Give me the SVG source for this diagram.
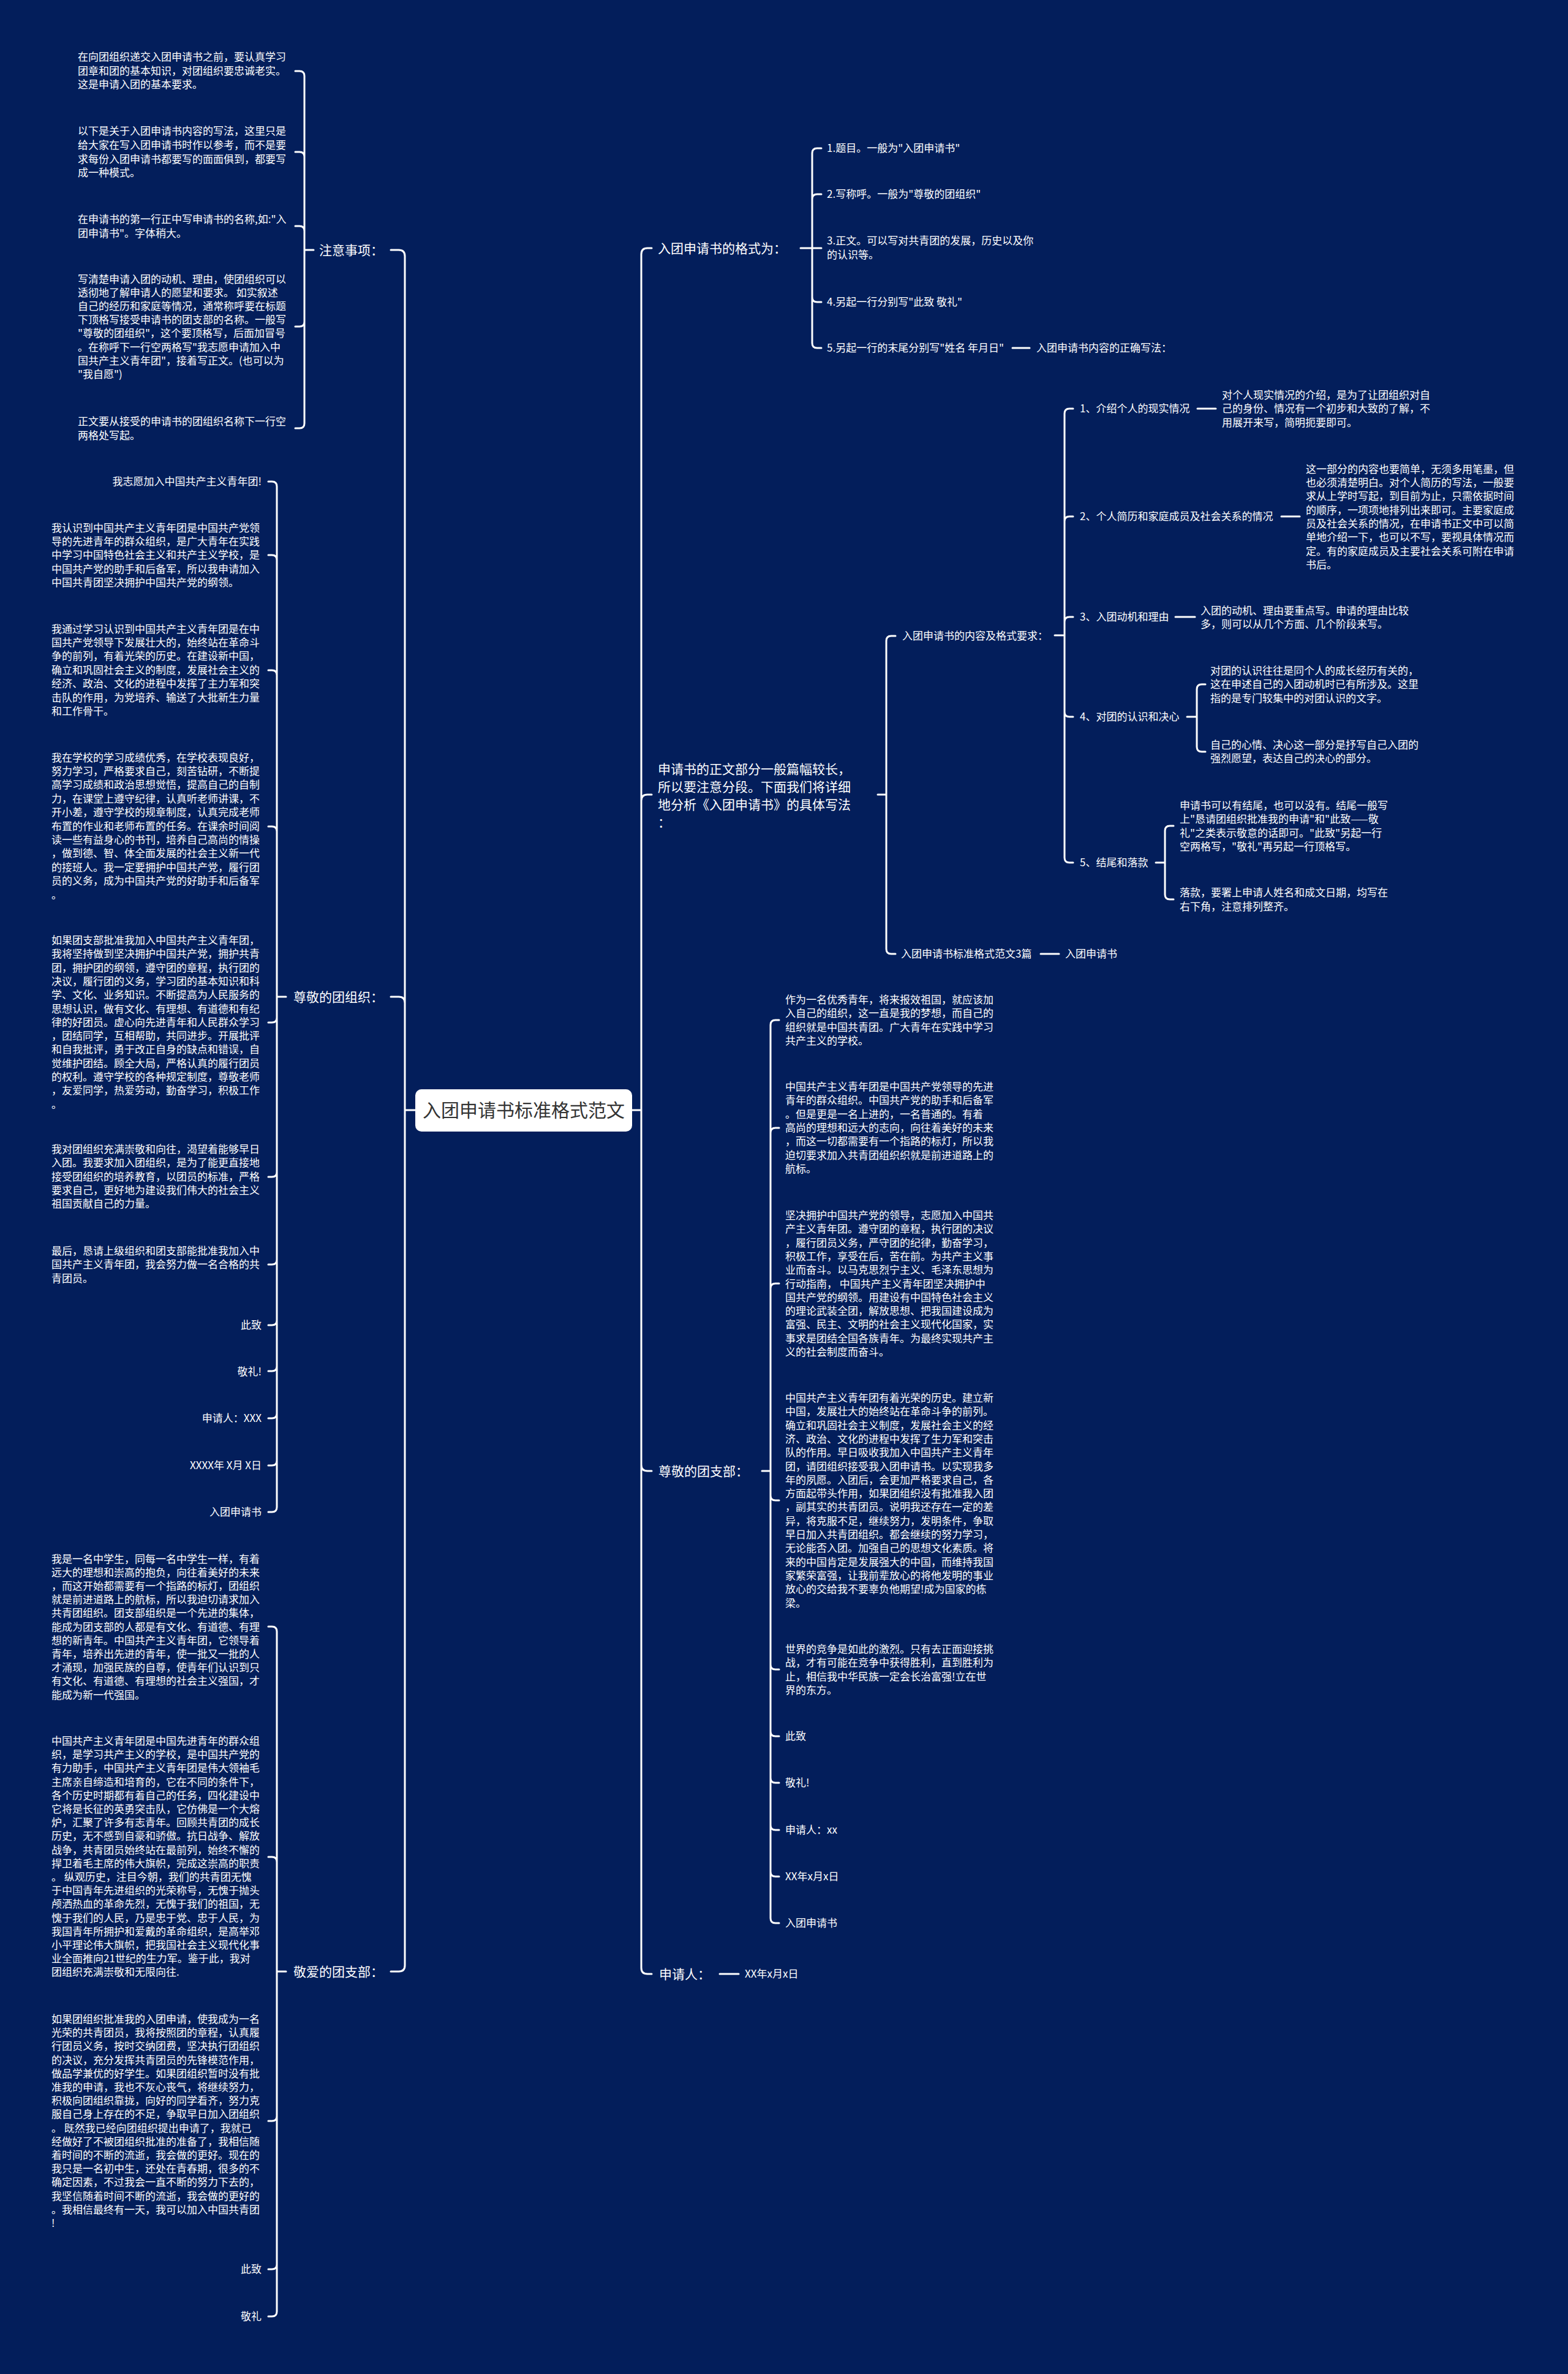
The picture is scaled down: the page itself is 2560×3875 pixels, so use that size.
<svg xmlns="http://www.w3.org/2000/svg" width="2560" height="3875" viewBox="0 0 2560 3875">
<style>
text{font-family:"Noto Sans CJK SC","Noto Sans",sans-serif;fill:#ffffff}
.l{font-size:17px}
.h{font-size:21px}
.c{font-size:30px;fill:#333333}
.e{text-anchor:end}
.ln{fill:none;stroke:#ffffff;stroke-width:3;stroke-linecap:round}
</style>
<rect width="2560" height="3875" fill="#031e5b"/>
<g id="connectors" class="ln">
<path d="M678 1812H661M661 1812V418Q661 408 651 408H638M661 1812V1637Q661 1627 651 1627H638M661 1812V3208Q661 3218 651 3218H638"/>
<path d="M1032 1812H1047M1047 1812V415Q1047 405 1057 405H1064M1047 1812V1307Q1047 1297 1057 1297H1064M1047 1812V2391Q1047 2401 1057 2401H1064M1047 1812V3212Q1047 3222 1057 3222H1064"/>
<path d="M512 408H497M497 408V124Q497 116 489 116H482M497 408V256Q497 248 489 248H482M497 408V377Q497 369 489 369H482M497 408V525Q497 533 489 533H482M497 408V691Q497 699 489 699H482"/>
<path d="M467 1627H452M452 1627V794Q452 786 444 786H438M452 1627V914Q452 906 444 906H438M452 1627V1102Q452 1094 444 1094H438M452 1627V1357Q452 1349 444 1349H438M452 1627V1661Q452 1669 444 1669H438M452 1627V1913Q452 1921 444 1921H438M452 1627V2056Q452 2064 444 2064H438M452 1627V2155Q452 2163 444 2163H438M452 1627V2230Q452 2238 444 2238H438M452 1627V2307Q452 2315 444 2315H438M452 1627V2384Q452 2392 444 2392H438M452 1627V2460Q452 2468 444 2468H438"/>
<path d="M467 3218H452M452 3218V2663Q452 2655 444 2655H438M452 3218V3039Q452 3031 444 3031H438M452 3218V3454Q452 3462 444 3462H438M452 3218V3696Q452 3704 444 3704H438M452 3218V3773Q452 3781 444 3781H438"/>
<path d="M1307 405H1326M1326 405V250Q1326 242 1334 242H1341M1326 405V325Q1326 317 1334 317H1341M1326 405H1341M1326 405V485Q1326 493 1334 493H1341M1326 405V560Q1326 568 1334 568H1341M1653 568H1681"/>
<path d="M1433 1297H1447M1447 1297V1046Q1447 1038 1455 1038H1462M1447 1297V1549Q1447 1557 1455 1557H1462M1699 1557H1729"/>
<path d="M1722 1037H1738M1738 1037V675Q1738 667 1746 667H1752M1738 1037V851Q1738 843 1746 843H1752M1738 1037V1015Q1738 1007 1746 1007H1752M1738 1037V1162Q1738 1170 1746 1170H1752M1738 1037V1400Q1738 1408 1746 1408H1752M1955 667H1985M2092 843H2122M1919 1007H1951"/>
<path d="M1938 1170H1954M1954 1170V1125Q1954 1117 1962 1117H1968M1954 1170V1219Q1954 1227 1962 1227H1968M1887 1408H1902M1902 1408V1356Q1902 1348 1910 1348H1916M1902 1408V1460Q1902 1468 1910 1468H1916"/>
<path d="M1244 2401H1258M1258 2401V1673Q1258 1665 1266 1665H1272M1258 2401V1849Q1258 1841 1266 1841H1272M1258 2401V2103Q1258 2095 1266 2095H1272M1258 2401V2441Q1258 2449 1266 2449H1272M1258 2401V2717Q1258 2725 1266 2725H1272M1258 2401V2826Q1258 2834 1266 2834H1272M1258 2401V2902Q1258 2910 1266 2910H1272M1258 2401V2979Q1258 2987 1266 2987H1272M1258 2401V3055Q1258 3063 1266 3063H1272M1258 2401V3131Q1258 3139 1266 3139H1272M1175 3222H1206"/>
</g>
<g id="root">
<rect x="678" y="1778" width="354" height="69" rx="10" fill="#ffffff"/>
<text class="c" x="855" y="1822.5" text-anchor="middle">入团申请书标准格式范文</text>
</g>
<g id="n-notes"><text class="h e" x="626" y="415.5">注意事项：</text></g>
<g id="n-notes-1"><text class="l"><tspan x="127" y="98.5">在向团组织递交入团申请书之前，要认真学习</tspan><tspan x="127" y="121.5">团章和团的基本知识，对团组织要忠诚老实。</tspan><tspan x="127" y="144">这是申请入团的基本要求。</tspan></text></g>
<g id="n-notes-2"><text class="l"><tspan x="127" y="220">以下是关于入团申请书内容的写法，这里只是</tspan><tspan x="127" y="243">给大家在写入团申请书时作以参考，而不是要</tspan><tspan x="127" y="265.5">求每份入团申请书都要写的面面俱到，都要写</tspan><tspan x="127" y="288">成一种模式。</tspan></text></g>
<g id="n-notes-3"><text class="l"><tspan x="127" y="363.5">在申请书的第一行正中写申请书的名称,如:"入</tspan><tspan x="127" y="387">团申请书"。字体稍大。</tspan></text></g>
<g id="n-notes-4"><text class="l"><tspan x="127" y="461.5">写清楚申请入团的动机、理由，使团组织可以</tspan><tspan x="127" y="483.7">透彻地了解申请人的愿望和要求。 如实叙述</tspan><tspan x="127" y="505.9">自己的经历和家庭等情况，通常称呼要在标题</tspan><tspan x="127" y="528.1">下顶格写接受申请书的团支部的名称。一般写</tspan><tspan x="127" y="550.3">"尊敬的团组织"，这个要顶格写，后面加冒号</tspan><tspan x="127" y="572.5">。在称呼下一行空两格写"我志愿申请加入中</tspan><tspan x="127" y="594.7">国共产主义青年团"，接着写正文。(也可以为</tspan><tspan x="127" y="616.9">"我自愿")</tspan></text></g>
<g id="n-notes-5"><text class="l"><tspan x="127" y="693.5">正文要从接受的申请书的团组织名称下一行空</tspan><tspan x="127" y="716.5">两格处写起。</tspan></text></g>
<g id="n-zz"><text class="h e" x="626" y="1634.5">尊敬的团组织：</text></g>
<g id="n-zz-1"><text class="l e" x="427" y="792">我志愿加入中国共产主义青年团!</text></g>
<g id="n-zz-2"><text class="l"><tspan x="84" y="867.5">我认识到中国共产主义青年团是中国共产党领</tspan><tspan x="84" y="889.9">导的先进青年的群众组织，是广大青年在实践</tspan><tspan x="84" y="912.3">中学习中国特色社会主义和共产主义学校，是</tspan><tspan x="84" y="934.7">中国共产党的助手和后备军，所以我申请加入</tspan><tspan x="84" y="957.1">中国共青团坚决拥护中国共产党的纲领。</tspan></text></g>
<g id="n-zz-3"><text class="l"><tspan x="84" y="1032.6">我通过学习认识到中国共产主义青年团是在中</tspan><tspan x="84" y="1055">国共产党领导下发展壮大的，始终站在革命斗</tspan><tspan x="84" y="1077.4">争的前列，有着光荣的历史。在建设新中国，</tspan><tspan x="84" y="1099.8">确立和巩固社会主义的制度，发展社会主义的</tspan><tspan x="84" y="1122.2">经济、政治、文化的进程中发挥了主力军和突</tspan><tspan x="84" y="1144.6">击队的作用，为党培养、输送了大批新生力量</tspan><tspan x="84" y="1167">和工作骨干。</tspan></text></g>
<g id="n-zz-4"><text class="l"><tspan x="84" y="1242.6">我在学校的学习成绩优秀，在学校表现良好，</tspan><tspan x="84" y="1265">努力学习，严格要求自己，刻苦钻研，不断提</tspan><tspan x="84" y="1287.4">高学习成绩和政治思想觉悟，提高自己的自制</tspan><tspan x="84" y="1309.8">力，在课堂上遵守纪律，认真听老师讲课，不</tspan><tspan x="84" y="1332.2">开小差，遵守学校的规章制度，认真完成老师</tspan><tspan x="84" y="1354.6">布置的作业和老师布置的任务。在课余时间阅</tspan><tspan x="84" y="1377">读一些有益身心的书刊，培养自己高尚的情操</tspan><tspan x="84" y="1399.4">，做到德、智、体全面发展的社会主义新一代</tspan><tspan x="84" y="1421.8">的接班人。我一定要拥护中国共产党，履行团</tspan><tspan x="84" y="1444.2">员的义务，成为中国共产党的好助手和后备军</tspan><tspan x="84" y="1466.6">。</tspan></text></g>
<g id="n-zz-5"><text class="l"><tspan x="84" y="1541">如果团支部批准我加入中国共产主义青年团，</tspan><tspan x="84" y="1563.3">我将坚持做到坚决拥护中国共产党，拥护共青</tspan><tspan x="84" y="1585.6">团，拥护团的纲领，遵守团的章程，执行团的</tspan><tspan x="84" y="1607.9">决议，履行团的义务，学习团的基本知识和科</tspan><tspan x="84" y="1630.2">学、文化、业务知识。不断提高为人民服务的</tspan><tspan x="84" y="1652.5">思想认识，做有文化、有理想、有道德和有纪</tspan><tspan x="84" y="1674.8">律的好团员。虚心向先进青年和人民群众学习</tspan><tspan x="84" y="1697.1">，团结同学，互相帮助，共同进步。开展批评</tspan><tspan x="84" y="1719.4">和自我批评，勇于改正自身的缺点和错误，自</tspan><tspan x="84" y="1741.7">觉维护团结。顾全大局，严格认真的履行团员</tspan><tspan x="84" y="1764">的权利。遵守学校的各种规定制度，尊敬老师</tspan><tspan x="84" y="1786.3">，友爱同学，热爱劳动，勤奋学习，积极工作</tspan><tspan x="84" y="1808.6">。</tspan></text></g>
<g id="n-zz-6"><text class="l"><tspan x="84" y="1882">我对团组织充满崇敬和向往，渴望着能够早日</tspan><tspan x="84" y="1904.3">入团。我要求加入团组织，是为了能更直接地</tspan><tspan x="84" y="1926.6">接受团组织的培养教育，以团员的标准，严格</tspan><tspan x="84" y="1948.9">要求自己，更好地为建设我们伟大的社会主义</tspan><tspan x="84" y="1971.2">祖国贡献自己的力量。</tspan></text></g>
<g id="n-zz-7"><text class="l"><tspan x="84" y="2048">最后，恳请上级组织和团支部能批准我加入中</tspan><tspan x="84" y="2070.3">国共产主义青年团，我会努力做一名合格的共</tspan><tspan x="84" y="2092.6">青团员。</tspan></text></g>
<g id="n-zz-8"><text class="l e" x="427" y="2169">此致</text></g>
<g id="n-zz-9"><text class="l e" x="427" y="2244.5">敬礼!</text></g>
<g id="n-zz-10"><text class="l e" x="427" y="2321">申请人：XXX</text></g>
<g id="n-zz-11"><text class="l e" x="427" y="2397.6">XXXX年 X月 X日</text></g>
<g id="n-zz-12"><text class="l e" x="427" y="2474">入团申请书</text></g>
<g id="n-ja"><text class="h e" x="626" y="3225.5">敬爱的团支部：</text></g>
<g id="n-ja-1"><text class="l"><tspan x="84" y="2550.5">我是一名中学生，同每一名中学生一样，有着</tspan><tspan x="84" y="2572.7">远大的理想和崇高的抱负，向往着美好的未来</tspan><tspan x="84" y="2594.9">，而这开始都需要有一个指路的标灯，团组织</tspan><tspan x="84" y="2617.1">就是前进道路上的航标，所以我迫切请求加入</tspan><tspan x="84" y="2639.3">共青团组织。团支部组织是一个先进的集体，</tspan><tspan x="84" y="2661.5">能成为团支部的人都是有文化、有道德、有理</tspan><tspan x="84" y="2683.7">想的新青年。中国共产主义青年团，它领导着</tspan><tspan x="84" y="2705.9">青年，培养出先进的青年，使一批又一批的人</tspan><tspan x="84" y="2728.1">才涌现，加强民族的自尊，使青年们认识到只</tspan><tspan x="84" y="2750.3">有文化、有道德、有理想的社会主义强国，才</tspan><tspan x="84" y="2772.5">能成为新一代强国。</tspan></text></g>
<g id="n-ja-2"><text class="l"><tspan x="84" y="2848">中国共产主义青年团是中国先进青年的群众组</tspan><tspan x="84" y="2870.2">织，是学习共产主义的学校，是中国共产党的</tspan><tspan x="84" y="2892.4">有力助手，中国共产主义青年团是伟大领袖毛</tspan><tspan x="84" y="2914.6">主席亲自缔造和培育的，它在不同的条件下，</tspan><tspan x="84" y="2936.8">各个历史时期都有着自己的任务，四化建设中</tspan><tspan x="84" y="2959">它将是长征的英勇突击队，它仿佛是一个大熔</tspan><tspan x="84" y="2981.2">炉，汇聚了许多有志青年。回顾共青团的成长</tspan><tspan x="84" y="3003.4">历史，无不感到自豪和骄傲。抗日战争、解放</tspan><tspan x="84" y="3025.6">战争，共青团员始终站在最前列，始终不懈的</tspan><tspan x="84" y="3047.8">捍卫着毛主席的伟大旗帜，完成这崇高的职责</tspan><tspan x="84" y="3070">。 纵观历史，注目今朝，我们的共青团无愧</tspan><tspan x="84" y="3092.2">于中国青年先进组织的光荣称号，无愧于抛头</tspan><tspan x="84" y="3114.4">颅洒热血的革命先烈，无愧于我们的祖国，无</tspan><tspan x="84" y="3136.6">愧于我们的人民，乃是忠于党、忠于人民，为</tspan><tspan x="84" y="3158.8">我国青年所拥护和爱戴的革命组织，是高举邓</tspan><tspan x="84" y="3181">小平理论伟大旗帜，把我国社会主义现代化事</tspan><tspan x="84" y="3203.2">业全面推向21世纪的生力军。鉴于此，我对</tspan><tspan x="84" y="3225.4">团组织充满崇敬和无限向往.</tspan></text></g>
<g id="n-ja-3"><text class="l"><tspan x="84" y="3302">如果团组织批准我的入团申请，使我成为一名</tspan><tspan x="84" y="3324.2">光荣的共青团员，我将按照团的章程，认真履</tspan><tspan x="84" y="3346.4">行团员义务，按时交纳团费，坚决执行团组织</tspan><tspan x="84" y="3368.6">的决议，充分发挥共青团员的先锋模范作用，</tspan><tspan x="84" y="3390.8">做品学兼优的好学生。如果团组织暂时没有批</tspan><tspan x="84" y="3413">准我的申请，我也不灰心丧气，将继续努力，</tspan><tspan x="84" y="3435.2">积极向团组织靠拢，向好的同学看齐，努力克</tspan><tspan x="84" y="3457.4">服自己身上存在的不足，争取早日加入团组织</tspan><tspan x="84" y="3479.6">。 既然我已经向团组织提出申请了，我就已</tspan><tspan x="84" y="3501.8">经做好了不被团组织批准的准备了，我相信随</tspan><tspan x="84" y="3524">着时间的不断的流逝，我会做的更好。现在的</tspan><tspan x="84" y="3546.2">我只是一名初中生，还处在青春期，很多的不</tspan><tspan x="84" y="3568.4">确定因素，不过我会一直不断的努力下去的，</tspan><tspan x="84" y="3590.6">我坚信随着时间不断的流逝，我会做的更好的</tspan><tspan x="84" y="3612.8">。我相信最终有一天，我可以加入中国共青团</tspan><tspan x="84" y="3635">!</tspan></text></g>
<g id="n-ja-4"><text class="l e" x="427" y="3710">此致</text></g>
<g id="n-ja-5"><text class="l e" x="427" y="3787">敬礼</text></g>
<g id="n-fmt"><text class="h" x="1074" y="412.5">入团申请书的格式为：</text></g>
<g id="n-fmt-1"><text class="l" x="1350" y="247.7">1.题目。一般为"入团申请书"</text></g>
<g id="n-fmt-2"><text class="l" x="1350" y="322.7">2.写称呼。一般为"尊敬的团组织"</text></g>
<g id="n-fmt-3"><text class="l"><tspan x="1350" y="399">3.正文。可以写对共青团的发展，历史以及你</tspan><tspan x="1350" y="422.3">的认识等。</tspan></text></g>
<g id="n-fmt-4"><text class="l" x="1350" y="498.7">4.另起一行分别写"此致 敬礼"</text></g>
<g id="n-fmt-5"><text class="l" x="1350" y="574.3">5.另起一行的末尾分别写"姓名 年月日"</text></g>
<g id="n-fmt-5a"><text class="l" x="1692" y="574.3">入团申请书内容的正确写法：</text></g>
<g id="n-body"><text class="h"><tspan x="1074" y="1262.5">申请书的正文部分一般篇幅较长，</tspan><tspan x="1074" y="1291.5">所以要注意分段。下面我们将详细</tspan><tspan x="1074" y="1320.5">地分析《入团申请书》的具体写法</tspan><tspan x="1074" y="1349.5">：</tspan></text></g>
<g id="n-req"><text class="l" x="1473" y="1044">入团申请书的内容及格式要求：</text></g>
<g id="n-req-1"><text class="l" x="1763" y="673">1、介绍个人的现实情况</text></g>
<g id="n-req-1a"><text class="l"><tspan x="1995" y="651">对个人现实情况的介绍，是为了让团组织对自</tspan><tspan x="1995" y="673.3">己的身份、情况有一个初步和大致的了解，不</tspan><tspan x="1995" y="695.6">用展开来写，简明扼要即可。</tspan></text></g>
<g id="n-req-2"><text class="l" x="1763" y="849">2、个人简历和家庭成员及社会关系的情况</text></g>
<g id="n-req-2a"><text class="l"><tspan x="2132" y="771.7">这一部分的内容也要简单，无须多用笔墨，但</tspan><tspan x="2132" y="794">也必须清楚明白。对个人简历的写法，一般要</tspan><tspan x="2132" y="816.3">求从上学时写起，到目前为止，只需依据时间</tspan><tspan x="2132" y="838.6">的顺序，一项项地排列出来即可。主要家庭成</tspan><tspan x="2132" y="860.9">员及社会关系的情况，在申请书正文中可以简</tspan><tspan x="2132" y="883.2">单地介绍一下，也可以不写，要视具体情况而</tspan><tspan x="2132" y="905.5">定。有的家庭成员及主要社会关系可附在申请</tspan><tspan x="2132" y="927.8">书后。</tspan></text></g>
<g id="n-req-3"><text class="l" x="1763" y="1013">3、入团动机和理由</text></g>
<g id="n-req-3a"><text class="l"><tspan x="1960" y="1003">入团的动机、理由要重点写。申请的理由比较</tspan><tspan x="1960" y="1025.3">多，则可以从几个方面、几个阶段来写。</tspan></text></g>
<g id="n-req-4"><text class="l" x="1763" y="1176">4、对团的认识和决心</text></g>
<g id="n-req-4a"><text class="l"><tspan x="1976" y="1101">对团的认识往往是同个人的成长经历有关的，</tspan><tspan x="1976" y="1123.3">这在申述自己的入团动机时已有所涉及。这里</tspan><tspan x="1976" y="1145.6">指的是专门较集中的对团认识的文字。</tspan></text></g>
<g id="n-req-4b"><text class="l"><tspan x="1976" y="1222">自己的心情、决心这一部分是抒写自己入团的</tspan><tspan x="1976" y="1244.3">强烈愿望，表达自己的决心的部分。</tspan></text></g>
<g id="n-req-5"><text class="l" x="1763" y="1414">5、结尾和落款</text></g>
<g id="n-req-5a"><text class="l"><tspan x="1926" y="1321">申请书可以有结尾，也可以没有。结尾一般写</tspan><tspan x="1926" y="1343.3">上"恳请团组织批准我的申请"和"此致——敬</tspan><tspan x="1926" y="1365.6">礼"之类表示敬意的话即可。"此致"另起一行</tspan><tspan x="1926" y="1387.9">空两格写，"敬礼"再另起一行顶格写。</tspan></text></g>
<g id="n-req-5b"><text class="l"><tspan x="1926" y="1463.3">落款，要署上申请人姓名和成文日期，均写在</tspan><tspan x="1926" y="1485.6">右下角，注意排列整齐。</tspan></text></g>
<g id="n-samples"><text class="l" x="1471" y="1563">入团申请书标准格式范文3篇</text></g>
<g id="n-samples-a"><text class="l" x="1739" y="1563">入团申请书</text></g>
<g id="n-zb"><text class="h" x="1075" y="2408.5">尊敬的团支部：</text></g>
<g id="n-zb-1"><text class="l"><tspan x="1282" y="1638">作为一名优秀青年，将来报效祖国，就应该加</tspan><tspan x="1282" y="1660.3">入自己的组织，这一直是我的梦想，而自己的</tspan><tspan x="1282" y="1682.6">组织就是中国共青团。广大青年在实践中学习</tspan><tspan x="1282" y="1704.9">共产主义的学校。</tspan></text></g>
<g id="n-zb-2"><text class="l"><tspan x="1282" y="1780">中国共产主义青年团是中国共产党领导的先进</tspan><tspan x="1282" y="1802.3">青年的群众组织。中国共产党的助手和后备军</tspan><tspan x="1282" y="1824.6">。但是更是一名上进的，一名普通的。有着</tspan><tspan x="1282" y="1846.9">高尚的理想和远大的志向，向往着美好的未来</tspan><tspan x="1282" y="1869.2">，而这一切都需要有一个指路的标灯，所以我</tspan><tspan x="1282" y="1891.5">迫切要求加入共青团组织织就是前进道路上的</tspan><tspan x="1282" y="1913.8">航标。</tspan></text></g>
<g id="n-zb-3"><text class="l"><tspan x="1282" y="1990">坚决拥护中国共产党的领导，志愿加入中国共</tspan><tspan x="1282" y="2012.3">产主义青年团。遵守团的章程，执行团的决议</tspan><tspan x="1282" y="2034.6">，履行团员义务，严守团的纪律，勤奋学习，</tspan><tspan x="1282" y="2056.9">积极工作，享受在后，苦在前。为共产主义事</tspan><tspan x="1282" y="2079.2">业而奋斗。以马克思烈宁主义、毛泽东思想为</tspan><tspan x="1282" y="2101.5">行动指南， 中国共产主义青年团坚决拥护中</tspan><tspan x="1282" y="2123.8">国共产党的纲领。用建设有中国特色社会主义</tspan><tspan x="1282" y="2146.1">的理论武装全团，解放思想、把我国建设成为</tspan><tspan x="1282" y="2168.4">富强、民主、文明的社会主义现代化国家，实</tspan><tspan x="1282" y="2190.7">事求是团结全国各族青年。为最终实现共产主</tspan><tspan x="1282" y="2213">义的社会制度而奋斗。</tspan></text></g>
<g id="n-zb-4"><text class="l"><tspan x="1282" y="2288">中国共产主义青年团有着光荣的历史。建立新</tspan><tspan x="1282" y="2310.3">中国，发展壮大的始终站在革命斗争的前列。</tspan><tspan x="1282" y="2332.6">确立和巩固社会主义制度，发展社会主义的经</tspan><tspan x="1282" y="2354.9">济、政治、文化的进程中发挥了生力军和突击</tspan><tspan x="1282" y="2377.2">队的作用。早日吸收我加入中国共产主义青年</tspan><tspan x="1282" y="2399.5">团，请团组织接受我入团申请书。以实现我多</tspan><tspan x="1282" y="2421.8">年的夙愿。入团后，会更加严格要求自己，各</tspan><tspan x="1282" y="2444.1">方面起带头作用，如果团组织没有批准我入团</tspan><tspan x="1282" y="2466.4">，副其实的共青团员。说明我还存在一定的差</tspan><tspan x="1282" y="2488.7">异，将克服不足，继续努力，发明条件，争取</tspan><tspan x="1282" y="2511">早日加入共青团组织。都会继续的努力学习，</tspan><tspan x="1282" y="2533.3">无论能否入团。加强自己的思想文化素质。将</tspan><tspan x="1282" y="2555.6">来的中国肯定是发展强大的中国，而维持我国</tspan><tspan x="1282" y="2577.9">家繁荣富强，让我前辈放心的将他发明的事业</tspan><tspan x="1282" y="2600.2">放心的交给我不要辜负他期望!成为国家的栋</tspan><tspan x="1282" y="2622.5">梁。</tspan></text></g>
<g id="n-zb-5"><text class="l"><tspan x="1282" y="2698">世界的竞争是如此的激烈。只有去正面迎接挑</tspan><tspan x="1282" y="2720.3">战，才有可能在竞争中获得胜利，直到胜利为</tspan><tspan x="1282" y="2742.6">止，相信我中华民族一定会长治富强!立在世</tspan><tspan x="1282" y="2764.9">界的东方。</tspan></text></g>
<g id="n-zb-6"><text class="l" x="1282" y="2840">此致</text></g>
<g id="n-zb-7"><text class="l" x="1282" y="2916">敬礼!</text></g>
<g id="n-zb-8"><text class="l" x="1282" y="2993">申请人：xx</text></g>
<g id="n-zb-9"><text class="l" x="1282" y="3069">XX年x月x日</text></g>
<g id="n-zb-10"><text class="l" x="1282" y="3145">入团申请书</text></g>
<g id="n-sign"><text class="h" x="1076" y="3229.5">申请人：</text></g>
<g id="n-sign-a"><text class="l" x="1216" y="3228">XX年x月x日</text></g>
</svg>
